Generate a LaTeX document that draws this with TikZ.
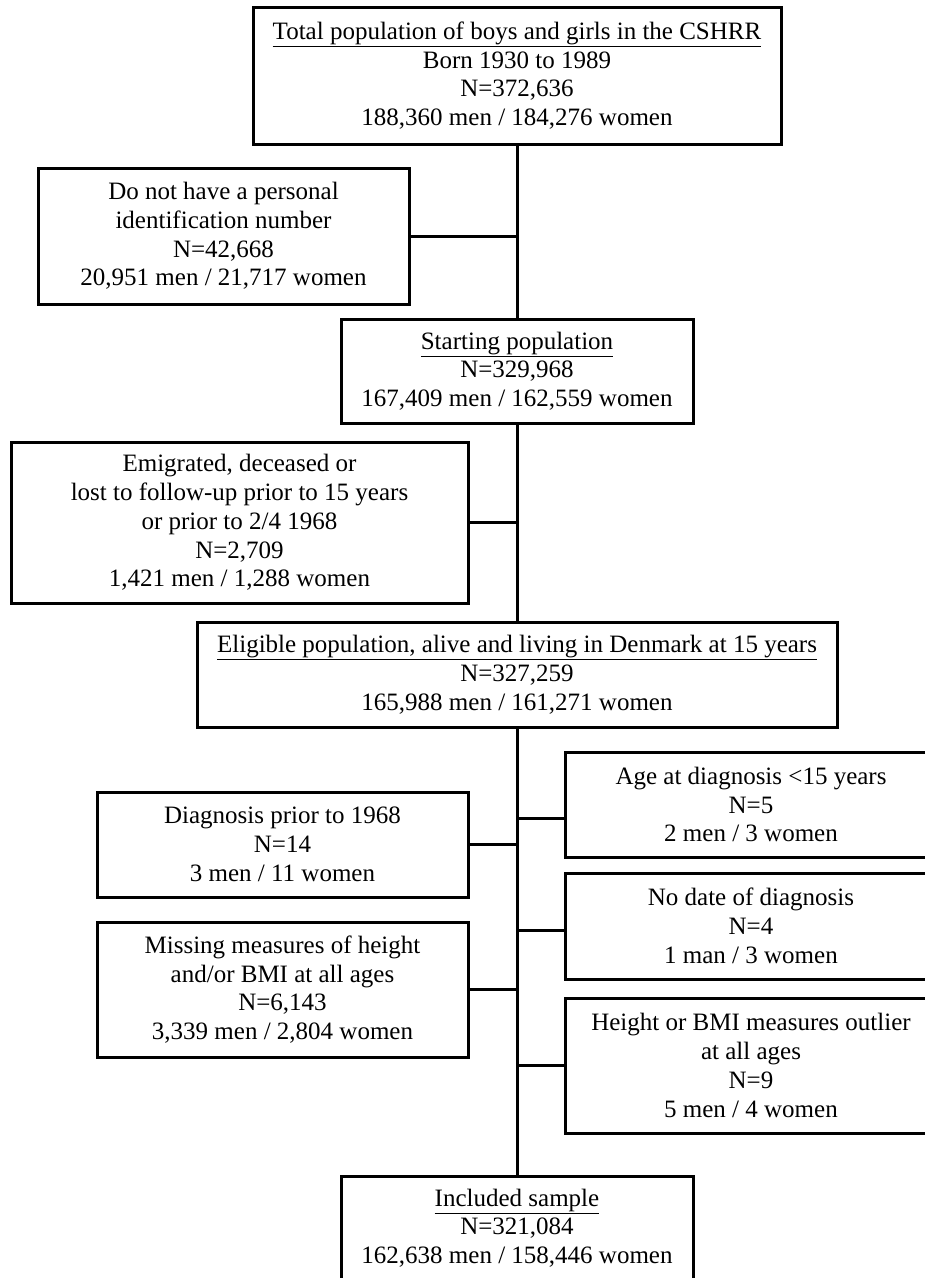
\documentclass[tikz,border=0pt]{standalone}
\usepackage{fontspec}
\setmainfont{Liberation Serif}

\begin{document}
\begin{tikzpicture}[x=1pt,y=-1pt]

\tikzstyle{box}=[draw,line width=3pt,align=center,inner sep=0pt,font=\fontsize{25}{28.75}\selectfont];
\tikzstyle{link}=[line width=3pt];

\useasboundingbox (0,0) rectangle (925,1278);
\clip (0,0) rectangle (925,1278);

\node[box,minimum width=528,minimum height=137] (v1) at (517,75.5) {\underline{Total population of boys and girls in the CSHRR}\\Born 1930 to 1989\\N=372,636\\188,360 men / 184,276 women};
\node[box,minimum width=371,minimum height=136] (v2) at (223.5,236) {Do not have a personal\\identification number\\N=42,668\\20,951 men / 21,717 women};
\node[box,minimum width=352,minimum height=104] (v3) at (517,371) {\underline{Starting population}\\N=329,968\\167,409 men / 162,559 women};
\node[box,minimum width=457,minimum height=161] (v4) at (239.5,522.5) {Emigrated, deceased or\\lost to follow-up prior to 15 years\\or prior to 2/4 1968\\N=2,709\\1,421 men / 1,288 women};
\node[box,minimum width=640,minimum height=105] (v5) at (517,674.5) {\underline{Eligible population, alive and living in Denmark at 15 years}\\N=327,259\\165,988 men / 161,271 women};

\node[box,minimum width=372,minimum height=105] (v6) at (751,804.5) {Age at diagnosis <15 years\\N=5\\2 men / 3 women};
\node[box,minimum width=372,minimum height=106] (v7) at (751,926) {No date of diagnosis\\N=4\\1 man / 3 women};
\node[box,minimum width=372,minimum height=135] (v8) at (751,1065.5) {Height or BMI measures outlier\\at all ages\\N=9\\5 men / 4 women};
\node[box,minimum width=371,minimum height=105] (v9) at (282.5,844.5) {Diagnosis prior to 1968\\N=14\\3 men / 11 women};
\node[box,minimum width=371,minimum height=135] (v10) at (282.5,989.5) {Missing measures of height\\and/or BMI at all ages\\N=6,143\\3,339 men / 2,804 women};
\node[box,minimum width=352,minimum height=104] (v11) at (517,1228) {\underline{Included sample}\\N=321,084\\162,638 men / 158,446 women};

\draw[link] (v1.south) -- (v3.north);
\draw[link] (v3.south) -- (v5.north);
\draw[link] (v5.south) -- (v11.north);

\draw[link] (v2.east) -- (v2.east -| v1.south);
\draw[link] (v4.east) -- (v4.east -| v1.south);
\draw[link] (v9.east) -- (v9.east -| v1.south);
\draw[link] (v10.east) -- (v10.east -| v1.south);

\coordinate (c6) at (517,818);
\coordinate (c7) at (517,930);
\draw[link] (c6) -- (c6 -| v6.west);
\draw[link] (c7) -- (c7 -| v7.west);
\draw[link] (v8.west) -- (v8.west -| v1.south);
\end{tikzpicture}
\end{document}
